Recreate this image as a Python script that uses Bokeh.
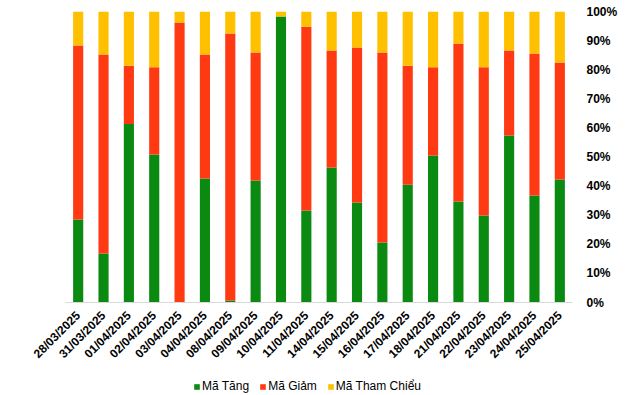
from math import pi
from bokeh.plotting import figure
from bokeh.layouts import column
from bokeh.models import ColumnDataSource, FactorRange, Legend, LegendItem, NumeralTickFormatter, FixedTicker
from bokeh.embed import file_html
from bokeh.resources import INLINE

dates = ["28/03/2025", "31/03/2025", "01/04/2025", "02/04/2025", "03/04/2025",
         "04/04/2025", "08/04/2025", "09/04/2025", "10/04/2025", "11/04/2025",
         "14/04/2025", "15/04/2025", "16/04/2025", "17/04/2025", "18/04/2025",
         "21/04/2025", "22/04/2025", "23/04/2025", "24/04/2025", "25/04/2025"]
ma_tang = [28.5, 16.8, 61.3, 50.9, 0.0, 42.6, 0.7, 41.9, 98.3, 31.6,
           46.4, 34.4, 20.6, 40.5, 50.5, 34.7, 29.9, 57.4, 36.8, 42.3]
ma_giam = [59.8, 68.4, 20.1, 29.9, 96.2, 42.6, 91.7, 44.0, 0.0, 63.2,
           40.2, 53.2, 65.3, 40.9, 30.3, 54.3, 50.9, 29.2, 48.8, 40.2]
ma_tham_chieu = [11.7, 14.8, 18.6, 19.2, 3.8, 14.8, 7.6, 14.1, 1.7, 5.2,
                 13.4, 12.4, 14.1, 18.6, 19.2, 11.0, 19.2, 13.4, 14.4, 17.5]
series_names = ["Mã Tăng", "Mã Giảm", "Mã Tham Chiểu"]
colors = ["#0B8A12", "#FF3A12", "#FFC000"]

source = ColumnDataSource(dict(
    date=dates,
    tang=[v / 100 for v in ma_tang],
    giam=[v / 100 for v in ma_giam],
    tc=[v / 100 for v in ma_tham_chieu],
))

p = figure(x_range=FactorRange(*dates, range_padding=0), y_range=(0, 1),
           width=632, height=370, output_backend="svg", toolbar_location=None,
           y_axis_location="right",
           min_border_left=65, min_border_top=11, min_border_right=60, min_border_bottom=68)

p.vbar_stack(["tang", "giam", "tc"], x="date", width=0.4, color=colors,
             line_color=None, source=source)

p.xgrid.grid_line_color = None
p.ygrid.grid_line_color = None
p.outline_line_color = None

p.xaxis.axis_line_color = "#D9D9D9"
p.xaxis.axis_line_width = 1
p.xaxis.major_tick_line_color = None
p.xaxis.minor_tick_line_color = None
p.xaxis.major_label_orientation = pi / 4
p.xaxis.major_label_text_font = "Liberation Sans"
p.xaxis.major_label_text_font_style = "bold"
p.xaxis.major_label_text_font_size = "12px"
p.xaxis.major_label_text_color = "#000000"

p.yaxis.axis_line_color = None
p.yaxis.major_tick_line_color = None
p.yaxis.minor_tick_line_color = None
p.yaxis.ticker = FixedTicker(ticks=[i / 10 for i in range(11)])
p.yaxis.formatter = NumeralTickFormatter(format="0%")
p.yaxis.major_label_text_font = "Liberation Sans"
p.yaxis.major_label_text_font_style = "bold"
p.yaxis.major_label_text_font_size = "12px"
p.yaxis.major_label_text_color = "#000000"
p.yaxis.major_label_standoff = 8

# Legend strip below the chart (swatch glyphs sit outside the strip's visible range)
lg = figure(width=632, height=25, output_backend="svg", toolbar_location=None,
            x_range=(0, 1), y_range=(0, 1), x_axis_location=None, y_axis_location=None,
            min_border=0)
lg.xgrid.grid_line_color = None
lg.ygrid.grid_line_color = None
lg.outline_line_color = None
dummies = [lg.vbar(x=[0.5], bottom=[-3], top=[-2], width=0.1, fill_color=c, line_color=None)
           for c in colors]

legend = Legend(items=[LegendItem(label=n, renderers=[r]) for n, r in zip(series_names, dummies)],
                orientation="horizontal", location=(128, 2),
                label_text_font="Liberation Sans", label_text_font_size="12px",
                label_text_color="#000000",
                glyph_width=7, glyph_height=7, label_standoff=2, spacing=10,
                padding=0, margin=0, border_line_color=None, background_fill_alpha=0,
                label_height=12)
lg.add_layout(legend)

layout = column(p, lg, spacing=0)

open("out.html", "w").write(file_html(layout, INLINE))
